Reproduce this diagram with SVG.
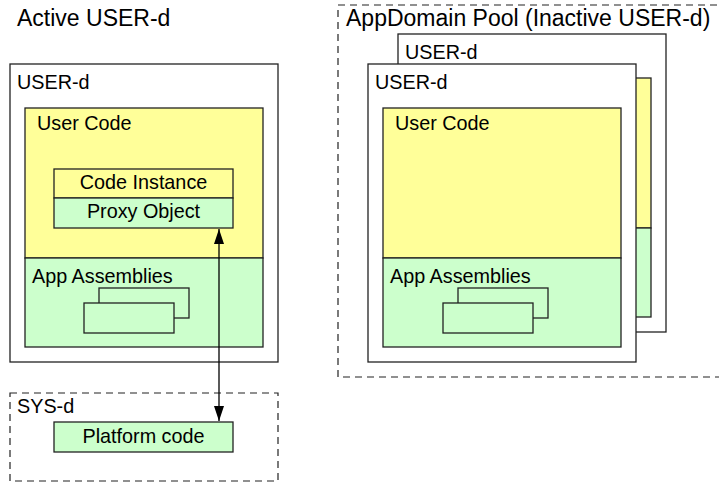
<svg xmlns="http://www.w3.org/2000/svg" width="719" height="482" viewBox="0 0 719 482">
<defs>
<style>
text{font-family:"Liberation Sans",Arial,sans-serif;fill:#000}
.t22{font-size:23px}
.t19{font-size:19.8px}
.box{fill:#fff;stroke:#222;stroke-width:1.3}
.yel{fill:#ffff99;stroke:#222;stroke-width:1.3}
.grn{fill:#ccffcc;stroke:#222;stroke-width:1.3}
.dash{fill:none;stroke:#222;stroke-width:1.2;stroke-dasharray:7 5}
.conn{stroke:#000;stroke-width:1.3;fill:none}
</style>
<marker id="arr" viewBox="0 0 15 10" refX="15" refY="5" markerWidth="15" markerHeight="10" markerUnits="userSpaceOnUse" orient="auto-start-reverse">
<path d="M0,0 L15,5 L0,10 Z" fill="#000"/>
</marker>
</defs>
<rect width="719" height="482" fill="#fff"/>

<g id="active-title"><text class="t22" x="17" y="26">Active USER-d</text></g>

<g id="active-user-d">
<rect class="box" x="10" y="64" width="268" height="298"/>
<text class="t19" x="17" y="89">USER-d</text>
<g id="user-code">
<rect class="yel" x="25" y="108" width="238" height="150"/>
<text class="t19" x="37" y="130">User Code</text>
</g>
<g id="app-assemblies">
<rect class="grn" x="25" y="258" width="238" height="89"/>
<text class="t19" x="32" y="283">App Assemblies</text>
<rect class="grn" x="99" y="288" width="90" height="30"/>
<rect class="grn" x="84" y="303" width="90" height="30"/>
</g>
<g id="code-instance">
<rect class="yel" x="54" y="169" width="179" height="29"/>
<text class="t19" x="143.5" y="189" text-anchor="middle">Code Instance</text>
</g>
<g id="proxy-object">
<rect class="grn" x="54" y="198" width="179" height="30"/>
<text class="t19" x="143.5" y="218" text-anchor="middle">Proxy Object</text>
</g>
</g>

<g id="sys-d">
<rect class="dash" x="10" y="393" width="268" height="88"/>
<text class="t19" x="17" y="413">SYS-d</text>
<g id="platform-code">
<rect class="grn" x="54" y="422" width="179" height="30"/>
<text class="t19" x="143.5" y="443" text-anchor="middle">Platform code</text>
</g>
</g>

<g id="appdomain-pool">
<rect class="dash" x="338" y="5" width="390" height="372"/>
<text class="t22" x="346" y="26">AppDomain Pool (Inactive USER-d)</text>
<g id="pool-user-d-back">
<rect class="box" x="398" y="34" width="268" height="298"/>
<text class="t19" x="405" y="59">USER-d</text>
<rect class="yel" x="413" y="78" width="238" height="150"/>
<rect class="grn" x="413" y="228" width="238" height="89"/>
</g>
<g id="pool-user-d-front">
<rect class="box" x="368" y="64" width="268" height="298"/>
<text class="t19" x="375" y="89">USER-d</text>
<rect class="yel" x="383" y="108" width="238" height="150"/>
<text class="t19" x="395" y="130">User Code</text>
<rect class="grn" x="383" y="258" width="238" height="89"/>
<text class="t19" x="390" y="283">App Assemblies</text>
<rect class="grn" x="458" y="288" width="90" height="30"/>
<rect class="grn" x="443" y="303" width="90" height="30"/>
</g>
</g>

<g id="connectors">
<line class="conn" x1="219" y1="229" x2="219" y2="421" marker-start="url(#arr)" marker-end="url(#arr)"/>
</g>
</svg>
